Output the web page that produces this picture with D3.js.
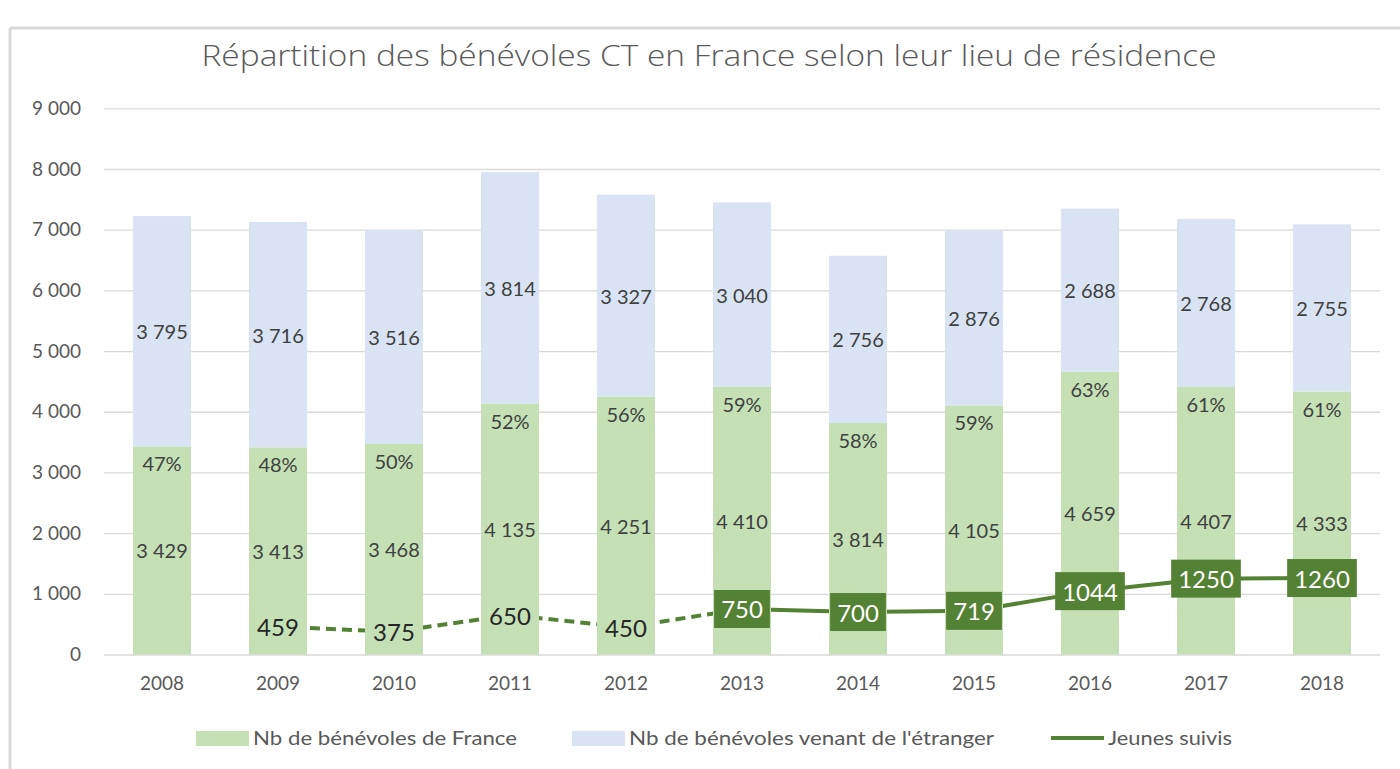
<!DOCTYPE html>
<html>
<head>
<meta charset="utf-8">
<script src="https://cdn.jsdelivr.net/npm/d3@7"></script>
<style>
  body { margin: 0; background: #fff; }
  svg { display: block; font-family: Lato, "Open Sans", sans-serif; }
</style>
</head>
<body>
<div id="chart-area"></div>
<script>
// values
const years = ["2008", "2009", "2010", "2011", "2012", "2013", "2014", "2015", "2016", "2017", "2018"]
const france = [3429, 3413, 3468, 4135, 4251, 4410, 3814, 4105, 4659, 4407, 4333]
const etranger = [3795, 3716, 3516, 3814, 3327, 3040, 2756, 2876, 2688, 2768, 2755]
const pctFrance = ["47%", "48%", "50%", "52%", "56%", "59%", "58%", "59%", "63%", "61%", "61%"]
const jeunes = [null, 459, 375, 650, 450, 750, 700, 719, 1044, 1250, 1260]
const yTicks = [0, 1000, 2000, 3000, 4000, 5000, 6000, 7000, 8000, 9000]
const firstSolid = "2013" // line is dashed before this year

const W = 1400, H = 769
const cGreen = "#c5e0b4", cBlue = "#dae3f3", cLine = "#548235"
const cGrid = "#d9d9d9", cText = "#595959", cLabel = "#404040"

const fr = d3.formatLocale({ decimal: ",", thousands: "\u00a0", grouping: [3], currency: ["", " €"] })
const fmt = fr.format(",d")

const svg = d3.select("#chart-area").append("svg")
	.attr("width", W)
	.attr("height", H)

// frame of the chart object (only top and left visible)
svg.append("line").attr("x1", 10).attr("x2", W).attr("y1", 28).attr("y2", 28)
	.attr("stroke", cGrid).attr("stroke-width", 3)
svg.append("line").attr("x1", 10).attr("x2", 10).attr("y1", 28).attr("y2", H)
	.attr("stroke", cGrid).attr("stroke-width", 3)

svg.append("text")
	.attr("x", 709)
	.attr("y", 66)
	.attr("text-anchor", "middle")
	.attr("font-family", "'Open Sans', sans-serif")
	.attr("font-weight", 300)
	.attr("font-size", "29px")
	.attr("fill", cText)
	.attr("textLength", 1015)
	.attr("lengthAdjust", "spacingAndGlyphs")
	.text("Répartition des bénévoles CT en France selon leur lieu de résidence")

const x = d3.scaleBand()
	.domain(years)
	.range([104, 1380])
	.paddingInner(0.5)
	.paddingOuter(0.25)

const y = d3.scaleLinear()
	.domain([0, 9000])
	.range([654.5, 108.3])

// gridlines + y labels
const yAxis = d3.axisLeft(y)
	.tickValues(yTicks)
	.tickSize(-(1380 - 104))
	.tickPadding(23)
	.tickFormat(fmt)
const gy = svg.append("g")
	.attr("transform", "translate(104,0)")
	.call(yAxis)
gy.select(".domain").remove()
gy.selectAll(".tick line").attr("stroke", cGrid).attr("stroke-width", 1.3)
gy.selectAll(".tick text")
	.attr("font-size", "19px")
	.attr("font-family", "Lato, sans-serif")
	.attr("fill", cText)

const xAxis = d3.axisBottom(x).tickSize(0).tickPadding(22)
const gx = svg.append("g")
	.attr("transform", `translate(0,${y(0)})`)
	.call(xAxis)
gx.select(".domain").remove()
gx.selectAll(".tick text")
	.attr("font-size", "19px")
	.attr("font-family", "Lato, sans-serif")
	.attr("fill", cText)

const rows = years.map((yr, i) => ({
	year: yr, fr: france[i], et: etranger[i], pct: pctFrance[i], j: jeunes[i]
}))
const cx = d => x(d.year) + x.bandwidth() / 2

// line goes below the bars (hidden inside them, like in the original)
const pts = rows.filter(d => d.j != null)
const solidIdx = pts.findIndex(d => d.year === firstSolid)
const lineGen = d3.line().x(cx).y(d => y(d.j))
svg.append("path")
	.attr("d", lineGen(pts.slice(0, solidIdx + 1)))
	.attr("fill", "none")
	.attr("stroke", cLine)
	.attr("stroke-width", 4)
	.attr("stroke-dasharray", "10,6")
svg.append("path")
	.attr("d", lineGen(pts.slice(solidIdx)))
	.attr("fill", "none")
	.attr("stroke", cLine)
	.attr("stroke-width", 4)

// stacked bars
const bars = svg.append("g")
bars.selectAll(".fr").data(rows).enter().append("rect")
	.attr("x", d => x(d.year))
	.attr("width", x.bandwidth())
	.attr("y", d => y(d.fr))
	.attr("height", d => y(0) - y(d.fr))
	.attr("fill", cGreen)
bars.selectAll(".et").data(rows).enter().append("rect")
	.attr("x", d => x(d.year))
	.attr("width", x.bandwidth())
	.attr("y", d => y(d.fr + d.et))
	.attr("height", d => y(d.fr) - y(d.fr + d.et))
	.attr("fill", cBlue)

// bar labels
const labels = svg.append("g")
	.attr("font-size", "20px")
	.attr("fill", cLabel)
	.attr("text-anchor", "middle")
	.attr("dominant-baseline", "central")
labels.selectAll(".lfr").data(rows).enter().append("text")
	.attr("x", cx)
	.attr("y", d => y(d.fr / 2))
	.text(d => fmt(d.fr))
labels.selectAll(".let").data(rows).enter().append("text")
	.attr("x", cx)
	.attr("y", d => y(d.fr + d.et / 2))
	.text(d => fmt(d.et))
labels.selectAll(".lpct").data(rows).enter().append("text")
	.attr("x", cx)
	.attr("y", d => y(d.fr) + 17)
	.text(d => d.pct)

// line labels: plain before 2013, boxed after
const jl = svg.append("g")
jl.selectAll("text.plain").data(pts.slice(0, solidIdx)).enter().append("text")
	.attr("x", cx)
	.attr("y", d => y(d.j))
	.attr("text-anchor", "middle")
	.attr("dominant-baseline", "central")
	.attr("font-size", "24px")
	.attr("fill", "#262626")
	.text(d => d.j)

const boxed = jl.selectAll("g.box").data(pts.slice(solidIdx)).enter().append("g")
	.attr("transform", d => `translate(${cx(d)},${y(d.j)})`)
const rects = boxed.append("rect").attr("fill", cLine)
const btxt = boxed.append("text")
	.attr("text-anchor", "middle")
	.attr("dominant-baseline", "central")
	.attr("font-size", "24px")
	.attr("fill", "#fff")
	.text(d => d.j)
btxt.each(function (d, i) {
	const w = this.getComputedTextLength() + 14
	d3.select(rects.nodes()[i])
		.attr("x", -w / 2).attr("width", w)
		.attr("y", -19).attr("height", 38)
})

// legend
const legend = svg.append("g").attr("font-size", "19px").attr("fill", cText)
const legItems = [
	{ name: "Nb de bénévoles de France", type: "rect", color: cGreen, x: 196, len: 264 },
	{ name: "Nb de bénévoles venant de l'étranger", type: "rect", color: cBlue, x: 572, len: 365 },
	{ name: "Jeunes suivis", type: "line", color: cLine, x: 1051, len: 124 }
]
legItems.forEach(it => {
	if (it.type === "rect") {
		legend.append("rect").attr("x", it.x).attr("y", 731).attr("width", 53).attr("height", 15).attr("fill", it.color)
	} else {
		legend.append("line").attr("x1", it.x).attr("x2", it.x + 53).attr("y1", 738).attr("y2", 738)
			.attr("stroke", it.color).attr("stroke-width", 4)
	}
	legend.append("text")
		.attr("x", it.x + 57)
		.attr("y", 745)
		.attr("textLength", it.len)
		.attr("lengthAdjust", "spacingAndGlyphs")
		.text(it.name)
})
</script>
</body>
</html>
